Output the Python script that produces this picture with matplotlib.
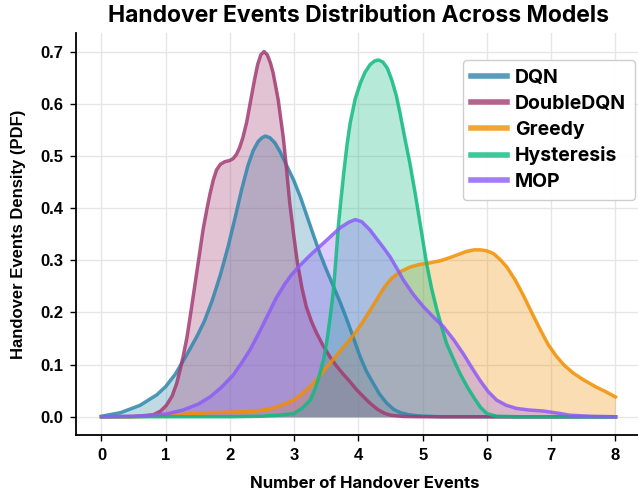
import numpy as np
import matplotlib.pyplot as plt
from matplotlib.lines import Line2D

# Werte (x = Anzahl Handover, y = Dichte)
models = ["DQN", "DoubleDQN", "Greedy", "Hysteresis", "MOP"]
colors = ["#2E86AB", "#A23B72", "#F18F01", "#10B981", "#8B5CF6"]

dqn_x = [0, 0.3, 0.6, 0.86, 1.0, 1.15, 1.3, 1.48, 1.6, 1.72, 1.85, 1.97, 2.08, 2.18, 2.28,
         2.36, 2.44, 2.5, 2.55, 2.62, 2.7, 2.78, 2.88, 2.99, 3.1, 3.2, 3.3, 3.4, 3.5, 3.61,
         3.72, 3.82, 3.92, 4.02, 4.12, 4.23, 4.33, 4.44, 4.55, 4.65, 4.78, 4.9, 5.05, 5.3,
         6.0, 8.0]
dqn_y = [0.001, 0.008, 0.022, 0.042, 0.058, 0.082, 0.113, 0.153, 0.183, 0.222, 0.272, 0.326,
         0.382, 0.435, 0.482, 0.51, 0.528, 0.535, 0.538, 0.535, 0.525, 0.508, 0.482, 0.454,
         0.42, 0.384, 0.348, 0.313, 0.282, 0.25, 0.218, 0.186, 0.152, 0.117, 0.088, 0.064,
         0.043, 0.026, 0.014, 0.008, 0.004, 0.002, 0.001, 0.0, 0.0, 0.0]

ddqn_x = [0, 0.5, 0.7, 0.81, 0.92, 1.01, 1.1, 1.17, 1.22, 1.27, 1.33, 1.38, 1.43, 1.48, 1.53,
          1.58, 1.64, 1.69, 1.74, 1.79, 1.85, 1.92, 1.99, 2.05, 2.1, 2.15, 2.2, 2.26, 2.32,
          2.38, 2.43, 2.48, 2.53, 2.58, 2.63, 2.67, 2.75, 2.83, 2.88, 2.93, 2.99, 3.05, 3.12,
          3.19, 3.27, 3.35, 3.45, 3.56, 3.66, 3.76, 3.87, 3.97, 4.08, 4.18, 4.3, 4.4, 4.5,
          4.7, 5.0, 8.0]
ddqn_y = [0.0, 0.0005, 0.002, 0.004, 0.011, 0.022, 0.04, 0.064, 0.088, 0.115, 0.152, 0.192,
          0.233, 0.275, 0.316, 0.358, 0.398, 0.428, 0.454, 0.473, 0.484, 0.489, 0.491, 0.495,
          0.503, 0.516, 0.535, 0.565, 0.605, 0.645, 0.675, 0.694, 0.70, 0.694, 0.678, 0.66,
          0.608, 0.535, 0.475, 0.41, 0.35, 0.295, 0.247, 0.21, 0.182, 0.16, 0.136, 0.114,
          0.097, 0.082, 0.067, 0.052, 0.038, 0.026, 0.014, 0.007, 0.003, 0.0005, 0.0, 0.0]

greedy_x = [0, 0.5, 1.0, 1.38, 1.7, 2.0, 2.3, 2.47, 2.65, 2.82, 2.99, 3.12, 3.25, 3.38, 3.51,
            3.64, 3.77, 3.9, 4.03, 4.15, 4.28, 4.4, 4.52, 4.65, 4.8, 4.95, 5.11, 5.27, 5.42,
            5.55, 5.68, 5.8, 5.9, 6.0, 6.1, 6.2, 6.31, 6.44, 6.57, 6.7, 6.83, 6.95, 7.08,
            7.2, 7.34, 7.5, 7.7, 7.85, 8.0]
greedy_y = [0.0, 0.0, 0.002, 0.006, 0.008, 0.009, 0.01, 0.012, 0.016, 0.023, 0.032, 0.044,
            0.058, 0.076, 0.096, 0.115, 0.134, 0.153, 0.175, 0.198, 0.224, 0.248, 0.266,
            0.278, 0.287, 0.292, 0.295, 0.299, 0.305, 0.311, 0.317, 0.32, 0.32, 0.318, 0.313,
            0.302, 0.287, 0.262, 0.232, 0.199, 0.167, 0.139, 0.116, 0.099, 0.084, 0.071,
            0.057, 0.048, 0.038]

hyst_x = [0, 2.0, 2.5, 2.75, 2.99, 3.12, 3.25, 3.33, 3.4, 3.46, 3.51, 3.56, 3.61, 3.65, 3.69,
          3.73, 3.77, 3.82, 3.87, 3.95, 4.03, 4.1, 4.18, 4.25, 4.31, 4.38, 4.45, 4.52, 4.59,
          4.65, 4.72, 4.8, 4.88, 4.96, 5.06, 5.14, 5.22, 5.3, 5.37, 5.48, 5.58, 5.69, 5.79,
          5.9, 6.0, 6.15, 6.5, 8.0]
hyst_y = [0.0, 0.0, 0.001, 0.003, 0.006, 0.016, 0.032, 0.055, 0.083, 0.112, 0.147, 0.192,
          0.243, 0.305, 0.371, 0.42, 0.467, 0.52, 0.563, 0.61, 0.64, 0.66, 0.675, 0.682,
          0.684, 0.68, 0.668, 0.645, 0.615, 0.58, 0.535, 0.486, 0.43, 0.37, 0.294, 0.245,
          0.205, 0.17, 0.141, 0.11, 0.083, 0.058, 0.038, 0.018, 0.006, 0.001, 0.0, 0.0]

mop_x = [0, 0.5, 0.75, 1.0, 1.27, 1.5, 1.69, 1.87, 2.05, 2.18, 2.31, 2.46, 2.6, 2.72, 2.85,
         2.95, 3.08, 3.25, 3.5, 3.71, 3.85, 3.95, 4.05, 4.18, 4.29, 4.39, 4.49, 4.6, 4.7, 4.85,
         5.01, 5.16, 5.32, 5.48, 5.63, 5.76, 5.89, 6.02, 6.15, 6.3, 6.46, 6.65, 6.88, 7.1,
         7.29, 7.6, 8.0]
mop_y = [0.0, 0.001, 0.003, 0.005, 0.013, 0.024, 0.038, 0.057, 0.08, 0.103, 0.128, 0.163,
         0.198, 0.228, 0.254, 0.271, 0.289, 0.31, 0.338, 0.362, 0.373, 0.378, 0.374, 0.358,
         0.34, 0.324, 0.307, 0.284, 0.262, 0.235, 0.211, 0.192, 0.173, 0.148, 0.121, 0.095,
         0.07, 0.048, 0.032, 0.022, 0.016, 0.013, 0.011, 0.007, 0.003, 0.001, 0.0]

xs = [dqn_x, ddqn_x, greedy_x, hyst_x, mop_x]
ys = [dqn_y, ddqn_y, greedy_y, hyst_y, mop_y]

fig = plt.figure(figsize=(6.38, 4.93), dpi=100)
ax = fig.add_axes([0.1188, 0.1176, 0.8862, 0.8148])

for x, y, c in zip(xs, ys, colors):
    ax.fill_between(x, y, color=c, alpha=0.3, linewidth=0)
    ax.plot(x, y, color=c, linewidth=2.5, alpha=0.85, solid_joinstyle="round")

ax.set_xlim(-0.4, 8.4)
ax.set_ylim(-0.035, 0.735)
ax.set_xticks(range(0, 9))
ax.set_yticks(np.arange(0, 0.71, 0.1))
ax.set_yticklabels([f"{v:.1f}" for v in np.arange(0, 0.71, 0.1)])
for lab in ax.get_xticklabels() + ax.get_yticklabels():
    lab.set_fontfamily("Liberation Sans")
    lab.set_fontweight("bold")
    lab.set_fontsize(12)
ax.tick_params(length=4, width=1, pad=5)

ax.grid(True, color="#e6e6e6", linewidth=1)
ax.set_axisbelow(True)
for s in ["top", "right"]:
    ax.spines[s].set_visible(False)
for s in ["left", "bottom"]:
    ax.spines[s].set_linewidth(1.3)

ax.set_title("Handover Events Distribution Across Models", fontfamily="Inter",
             fontweight="bold", fontsize=16.5, pad=8)
ax.set_xlabel("Number of Handover Events", fontfamily="Inter", fontweight="bold",
              fontsize=12, labelpad=10, x=0.511)
ax.set_ylabel("Handover Events Density (PDF)", fontfamily="Liberation Sans",
              fontweight="bold", fontsize=12, labelpad=10)

handles = [Line2D([0], [0], color=c, linewidth=4, alpha=0.8) for c in colors]
leg = ax.legend(handles, models, loc="upper left", bbox_to_anchor=(0.667, 0.957),
                prop={"family": "Inter", "weight": "bold", "size": 14},
                handlelength=1.85, handletextpad=0.4, labelspacing=0.4,
                frameon=True, framealpha=0.95, edgecolor="#cccccc", borderpad=0.45)

fig.savefig("out.png", dpi=100)
